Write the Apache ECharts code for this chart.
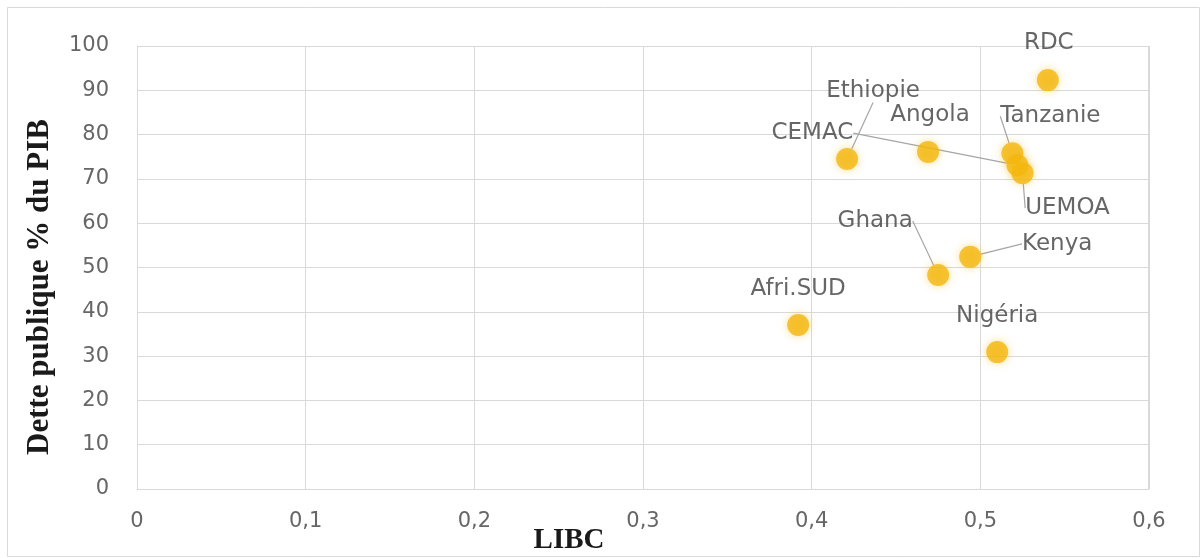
<!DOCTYPE html>
<html>
<head>
<meta charset="utf-8">
<script src="https://cdn.jsdelivr.net/npm/echarts@6/dist/echarts.min.js"></script>
<style>
  html, body { margin: 0; padding: 0; background: #ffffff; }
  #chart { width: 1203px; height: 558px; }
</style>
</head>
<body>
<div id="chart"></div>
<script>
// Public debt (% of GDP) against LIBC, by country / zone
const countries = ['RDC', 'Tanzanie', 'CEMAC', 'UEMOA', 'Ethiopie', 'Angola', 'Ghana', 'Kenya', 'Afri.SUD', 'Nigéria'];
const libc      = [0.540, 0.519, 0.522, 0.525, 0.421, 0.469, 0.475, 0.494, 0.392, 0.510];
const dette     = [92.3, 75.8, 73.1, 71.3, 74.5, 76.1, 48.3, 52.4, 37.0, 30.9];

const xTicks = ['0', '0,1', '0,2', '0,3', '0,4', '0,5', '0,6'];
const yTicks = ['0', '10', '20', '30', '40', '50', '60', '70', '80', '90', '100'];

// where each name sits relative to its dot (pixels), and which names get a leader line
const labelShift = {
  'RDC': [1, -37], 'Tanzanie': [38, -37], 'CEMAC': [-205, -32], 'UEMOA': [45, 35],
  'Ethiopie': [26, -68], 'Angola': [2, -37], 'Ghana': [-63, -54], 'Kenya': [87, -13],
  'Afri.SUD': [0, -36], 'Nigéria': [0, -36]
};
const withLeader = ['Tanzanie', 'CEMAC', 'UEMOA', 'Ethiopie', 'Ghana', 'Kenya'];

const points = countries.map((name, i) => ({
  name: name,
  value: [libc[i], dette[i]],
  labelLine: { show: withLeader.indexOf(name) >= 0 }
}));

const sansFont = 'DejaVu Sans';
const chart = echarts.init(document.getElementById('chart'), null, { renderer: 'canvas' });

chart.setOption({
  animation: false,
  backgroundColor: '#ffffff',
  grid: { left: 137, right: 54, top: 46, bottom: 69, show: false },
  xAxis: {
    type: 'value', min: 0, max: 0.6, interval: 0.1,
    axisLine: { show: true, lineStyle: { color: '#d9d9d9', width: 1 } },
    axisTick: { show: false },
    splitLine: { show: true, lineStyle: { color: '#d9d9d9', width: 1 } },
    axisLabel: {
      margin: 22, color: '#666666', fontFamily: sansFont, fontSize: 21,
      formatter: v => xTicks[Math.round(v * 10)]
    }
  },
  yAxis: {
    type: 'value', min: 0, max: 100, interval: 10,
    axisLine: { show: true, lineStyle: { color: '#d9d9d9', width: 1 } },
    axisTick: { show: false },
    splitLine: { show: true, lineStyle: { color: '#d9d9d9', width: 1 } },
    axisLabel: {
      margin: 28, color: '#666666', fontFamily: sansFont, fontSize: 21,
      formatter: v => yTicks[Math.round(v / 10)]
    }
  },
  graphic: [
    {
      type: 'rect', silent: true, z: -1,
      shape: { x: 7.5, y: 7.5, width: 1192, height: 549 },
      style: { fill: 'none', stroke: '#d9d9d9', lineWidth: 1 }
    },
    // frame line along the right and top of the plot
    {
      type: 'polyline', silent: true,
      shape: { points: [[137, 46.5], [1148.5, 46.5], [1148.5, 489]] },
      style: { stroke: '#d9d9d9', lineWidth: 1, fill: 'none' }
    },
    {
      type: 'text', x: 40, y: 287, rotation: Math.PI / 2,
      style: {
        text: 'Dette publique % du PIB', align: 'center', verticalAlign: 'middle',
        fontFamily: 'Liberation Serif', fontWeight: 'bold', fontSize: 31, fill: '#1a1a1a'
      }
    },
    {
      type: 'text', x: 569, y: 541,
      style: {
        text: 'LIBC', align: 'center', verticalAlign: 'middle',
        fontFamily: 'Liberation Serif', fontWeight: 'bold', fontSize: 29, fill: '#1a1a1a'
      }
    }
  ],
  series: [{
    type: 'scatter',
    data: points,
    symbol: 'circle',
    symbolSize: 22,
    itemStyle: {
      color: '#f4b60e',
      shadowBlur: 8,
      shadowColor: 'rgba(244,182,14,0.55)'
    },
    label: {
      show: true,
      position: 'inside',
      formatter: p => p.name,
      color: '#404040',
      fontFamily: sansFont,
      fontSize: 23,
      textBorderWidth: 0
    },
    labelLine: {
      show: true,
      lineStyle: { color: '#a6a6a6', width: 1.2 }
    },
    labelLayout: function (params) {
      const s = labelShift[countries[params.dataIndex]];
      return { dx: s[0], dy: s[1] };
    }
  }]
});
</script>
</body>
</html>
